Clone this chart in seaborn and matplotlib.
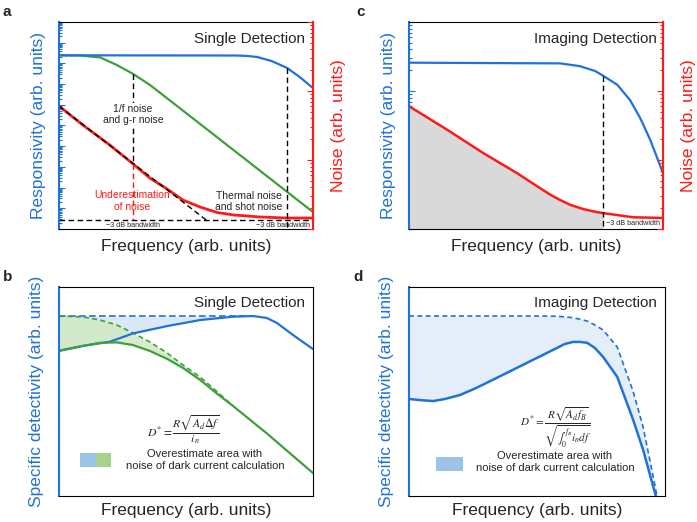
import numpy as np
import matplotlib.pyplot as plt
import seaborn as sns
from matplotlib.ticker import LogLocator, NullFormatter
from matplotlib.patches import Rectangle

sns.set_style("white")
plt.rcParams["font.family"] = ["Liberation Sans", "DejaVu Sans"]
plt.rcParams["mathtext.fontset"] = "stix"

BLUE = "#2172d8"
RED = "#ff1a1a"
GREEN = "#3fa03a"

# all values are log10 of arb. units
# panel a - single detection, responsivity and noise
fa_blue = [0, 3.5, 3.7, 3.9, 4.19, 4.49, 4.74, 5.0]
ra_blue = [8.39, 8.38, 8.36, 8.31, 8.11, 7.78, 7.34, 6.81]
fa_green = [0, 0.41, 0.81, 1.14, 1.46, 1.79, 2.78, 5.0]
ra_green = [8.39, 8.38, 8.29, 7.92, 7.49, 6.96, 5.07, 0.82]
fa_noise = [0, 0.47, 1.0, 1.46, 1.79, 2.13, 2.44, 2.78, 3.11, 3.43, 3.96, 4.49, 5.0]
na_noise = [5.94, 5.02, 4.06, 3.14, 2.46, 1.93, 1.40, 1.06, 0.80, 0.68, 0.58, 0.53, 0.53]
fa_asym = [0, 2.9]
na_asym = [5.94, 0.43]
na_floor = 0.43
fa_cut_green = 1.46
fa_cut_blue = 4.49

# panel c - imaging detection
fc_blue = [0, 2.38, 2.69, 2.93, 3.06, 3.28, 3.48, 3.64, 3.80, 4.0]
rc_blue = [2.41, 2.40, 2.36, 2.29, 2.22, 2.09, 1.87, 1.61, 1.29, 0.81]
fc_noise = [0, 0.65, 1.17, 1.70, 2.0, 2.22, 2.38, 2.54, 2.74, 2.93, 3.06, 3.53, 4.0]
nc_noise = [1.78, 1.41, 1.10, 0.81, 0.63, 0.50, 0.42, 0.35, 0.29, 0.25, 0.23, 0.17, 0.16]
fc_cut = 3.06

# panel b - specific detectivity, single detection
fb_blue = [0, 0.47, 1.0, 1.46, 2.13, 2.78, 3.43, 3.82, 4.09, 4.29, 4.61, 5.0]
db_blue = [6.95, 7.18, 7.38, 7.78, 8.13, 8.42, 8.58, 8.61, 8.52, 8.28, 7.70, 7.03]
db_blue_ideal = 8.61
fb_blue_ideal_end = 3.82
fb_green = [0, 0.47, 0.81, 1.14, 1.46, 1.79, 2.13, 2.44, 2.78, 3.11, 3.43, 4.09, 5.0]
db_green = [6.94, 7.18, 7.33, 7.35, 7.22, 6.94, 6.56, 6.13, 5.55, 4.90, 4.30, 3.00, 1.10]
db_green_ideal = [8.61, 8.57, 8.42, 8.18, 7.80, 7.37, 6.84, 6.27, 5.69, 5.00, 4.30]

# panel d - specific detectivity, imaging detection
fd = [0, 0.2, 0.41, 0.61, 0.86, 1.12, 1.42, 2.0, 2.51, 2.64, 2.78, 2.90, 3.02, 3.15,
      3.29, 3.53, 3.80, 3.97, 4.17, 4.25]
dd_real = [3.25, 3.21, 3.18, 3.25, 3.38, 3.60, 3.89, 4.46, 4.96, 5.09, 5.16, 5.16, 5.13, 4.96,
           4.66, 3.99, 2.55, 1.54, 0.10, -0.5]
dd_ideal = [6.03, 6.03, 6.03, 6.03, 6.03, 6.03, 6.03, 6.03, 6.02, 6.00, 5.97, 5.92, 5.86, 5.73,
            5.56, 4.99, 3.50, 2.30, 0.35, -0.5]


def p(v):
    return 10 ** np.asarray(v, dtype=float)


def style(ax, xdec, ydec, left_color, right_color="black", xlab_y=-0.048):
    ax.set_xscale("log")
    ax.set_yscale("log")
    ax.set_xlim(1, 10 ** xdec)
    ax.set_ylim(1, 10 ** ydec)
    for axis in (ax.xaxis, ax.yaxis):
        axis.set_major_locator(LogLocator(base=10, numticks=100))
        axis.set_minor_locator(LogLocator(base=10, subs=np.arange(2, 10), numticks=100))
        axis.set_minor_formatter(NullFormatter())
    ax.tick_params(which="both", direction="in", labelbottom=False, labelleft=False,
                   top=False, right=False, width=0.8)
    ax.tick_params(which="major", length=4)
    ax.tick_params(which="minor", length=2.5)
    ax.tick_params(axis="y", which="both", colors=left_color)
    ax.spines["left"].set_color(left_color)
    ax.spines["left"].set_linewidth(1.5)
    ax.spines["right"].set_color(right_color)
    for s in ("top", "bottom"):
        ax.spines[s].set_color("black")
    ax.set_xlabel("Frequency (arb. units)", fontsize=12.5)
    ax.xaxis.set_label_coords(0.5, xlab_y)


def left_label(ax, text, x):
    ax.set_ylabel(text, color=BLUE, fontsize=12.5)
    ax.yaxis.set_label_coords(x, 0.5)
    ax.yaxis.label.set_visible(True)


def right_axis(ax, ydec):
    axr = ax.twinx()
    axr.set_yscale("log")
    axr.set_ylim(1, 10 ** ydec)
    axr.yaxis.set_major_locator(LogLocator(base=10, numticks=100))
    axr.yaxis.set_minor_locator(LogLocator(base=10, subs=np.arange(2, 10), numticks=100))
    axr.yaxis.set_minor_formatter(NullFormatter())
    axr.tick_params(which="both", direction="in", labelright=False, colors=RED, width=0.8)
    axr.tick_params(which="major", length=4)
    axr.tick_params(which="minor", length=2.5)
    for s in ("left", "top", "bottom"):
        axr.spines[s].set_visible(False)
    axr.spines["right"].set_color(RED)
    axr.spines["right"].set_linewidth(1.5)
    axr.set_ylabel("Noise (arb. units)", color=RED, fontsize=12.5)
    axr.yaxis.set_label_coords(1.07, 0.5)
    return axr


fig = plt.figure(figsize=(6.97, 5.22), dpi=100)
ax_a = fig.add_axes([0.0846, 0.5613, 0.3644, 0.3966])
ax_c = fig.add_axes([0.5868, 0.5613, 0.3644, 0.3966])
ax_b = fig.add_axes([0.0846, 0.0498, 0.3644, 0.4004])
ax_d = fig.add_axes([0.5868, 0.0498, 0.3673, 0.4004])

lw = 1.6
dash_kw = dict(color="black", lw=1.0, dashes=(4, 2.5))
white_box = dict(facecolor="white", edgecolor="none", pad=0.8)

# ---------- a ----------
style(ax_a, 5, 10, BLUE, RED)
sns.lineplot(x=p(fa_noise), y=p(na_noise), ax=ax_a, color=RED, lw=lw + 0.4, sort=False, estimator=None)
ax_a.plot(p(fa_asym), p(na_asym), **dash_kw)
ax_a.plot(p([0, 5]), p([na_floor, na_floor]), **dash_kw)
sns.lineplot(x=p(fa_green), y=p(ra_green), ax=ax_a, color=GREEN, lw=lw, sort=False, estimator=None)
sns.lineplot(x=p(fa_blue), y=p(ra_blue), ax=ax_a, color=BLUE, lw=lw, sort=False, estimator=None)
g_top = np.interp(fa_cut_green, fa_green, ra_green)
n_mid = np.interp(fa_cut_green, fa_noise, na_noise)
ax_a.plot(p([fa_cut_green] * 2), p([g_top, n_mid]), **dash_kw)
ax_a.plot(p([fa_cut_green] * 2), p([n_mid, na_floor]), color=RED, lw=1.0, dashes=(4, 2.5))
b_top = np.interp(fa_cut_blue, fa_blue, ra_blue)
ax_a.plot(p([fa_cut_blue] * 2), p([b_top, 0]), **dash_kw)
left_label(ax_a, "Responsivity (arb. units)", -0.052)
right_axis(ax_a, 3)
ax_a.text(0.969, 0.918, "Single Detection", transform=ax_a.transAxes, ha="right", va="center", fontsize=11)
ax_a.text(0.291, 0.553, "1/f noise\nand g-r noise", transform=ax_a.transAxes, ha="center", va="center",
          fontsize=7.5, linespacing=1.2, bbox=white_box)
ax_a.text(0.287, 0.135, "Underestimation\nof noise", transform=ax_a.transAxes, ha="center", va="center",
          fontsize=7.5, color=RED, linespacing=1.2)
ax_a.text(0.748, 0.133, "Thermal noise\nand shot noise", transform=ax_a.transAxes, ha="center", va="center",
          fontsize=7.5, linespacing=1.2)
ax_a.text(0.291, 0.019, "\u22123 dB bandwidth", transform=ax_a.transAxes, ha="center", va="center", fontsize=5.2)
ax_a.text(0.884, 0.019, "\u22123 dB bandwidth", transform=ax_a.transAxes, ha="center", va="center", fontsize=5.2)

# ---------- c ----------
style(ax_c, 4, 3, BLUE, RED)
fcn = np.array(fc_noise)
ax_c.fill_between(p(fcn[fcn <= fc_cut]), p(np.array(nc_noise)[fcn <= fc_cut]), 1, color="#d9d9d9", lw=0)
sns.lineplot(x=p(fc_noise), y=p(nc_noise), ax=ax_c, color=RED, lw=lw + 0.2, sort=False, estimator=None)
sns.lineplot(x=p(fc_blue), y=p(rc_blue), ax=ax_c, color=BLUE, lw=lw, sort=False, estimator=None)
c_top = np.interp(fc_cut, fc_blue, rc_blue)
ax_c.plot(p([fc_cut] * 2), p([c_top, 0]), **dash_kw)
left_label(ax_c, "Responsivity (arb. units)", -0.052)
right_axis(ax_c, 3)
ax_c.text(0.976, 0.918, "Imaging Detection", transform=ax_c.transAxes, ha="right", va="center", fontsize=11)
ax_c.text(0.775, 0.026, "\u22123 dB bandwidth", transform=ax_c.transAxes, ha="left", va="center", fontsize=5.2)

# ---------- b ----------
style(ax_b, 5, 10, BLUE, xlab_y=-0.033)
fbb = np.array(fb_blue)
m = fbb <= fb_blue_ideal_end
ax_b.fill_between(p(fbb[m]), p(db_blue_ideal), p(np.array(db_blue)[m]), color="#dce8f6", lw=0)
ng = len(db_green_ideal)
ax_b.fill_between(p(fb_green[:ng]), p(db_green_ideal), p(db_green[:ng]), color="#cfe8c0", alpha=0.8, lw=0)
ax_b.plot(p([0, fb_blue_ideal_end]), p([db_blue_ideal] * 2), color=BLUE, lw=1.2, dashes=(4, 2))
ax_b.plot(p(fb_green[:ng]), p(db_green_ideal), color=GREEN, lw=1.2, dashes=(3, 2))
sns.lineplot(x=p(fb_blue), y=p(db_blue), ax=ax_b, color=BLUE, lw=lw, sort=False, estimator=None)
sns.lineplot(x=p(fb_green), y=p(db_green), ax=ax_b, color=GREEN, lw=lw, sort=False, estimator=None)
left_label(ax_b, "Specific detectivity (arb. units)", -0.060)
ax_b.text(0.969, 0.923, "Single Detection", transform=ax_b.transAxes, ha="right", va="center", fontsize=11)
ax_b.text(0.488, 0.316, r"$D^{*}=\dfrac{R\sqrt{A_d\Delta f}}{i_n}$", transform=ax_b.transAxes,
          ha="center", va="center", fontsize=8.5)
ax_b.text(0.575, 0.172, "Overestimate area with\nnoise of dark current calculation", transform=ax_b.transAxes,
          ha="center", va="center", fontsize=8, linespacing=1.25)
ax_b.add_patch(Rectangle((0.083, 0.139), 0.063, 0.067, transform=ax_b.transAxes, color="#9dc3e6", lw=0))
ax_b.add_patch(Rectangle((0.146, 0.139), 0.059, 0.067, transform=ax_b.transAxes, color="#a9d18e", lw=0))

# ---------- d ----------
style(ax_d, 4.34, 7, BLUE, xlab_y=-0.033)
ax_d.fill_between(p(fd), p(dd_ideal), p(dd_real), color="#e3eef9", lw=0)
ax_d.plot(p(fd), p(dd_ideal), color=BLUE, lw=1.2, dashes=(3, 2))
sns.lineplot(x=p(fd), y=p(dd_real), ax=ax_d, color=BLUE, lw=lw + 0.2, sort=False, estimator=None)
left_label(ax_d, "Specific detectivity (arb. units)", -0.060)
ax_d.text(0.969, 0.923, "Imaging Detection", transform=ax_d.transAxes, ha="right", va="center", fontsize=11)
ax_d.text(0.574, 0.325, r"$D^{*}=\dfrac{R\sqrt{A_d f_B}}{\sqrt{\int_0^{f_B} i_n df}}$",
          transform=ax_d.transAxes, ha="center", va="center", fontsize=8)
ax_d.text(0.570, 0.165, "Overestimate area with\nnoise of dark current calculation", transform=ax_d.transAxes,
          ha="center", va="center", fontsize=8, linespacing=1.25)
ax_d.add_patch(Rectangle((0.105, 0.120), 0.106, 0.067, transform=ax_d.transAxes, color="#9dc3e6", lw=0))

# panel letters
for lab, x, y in [("a", 0.004, 0.99), ("c", 0.512, 0.99), ("b", 0.004, 0.482), ("d", 0.507, 0.482)]:
    fig.text(x, y, lab, fontsize=11, fontweight="bold", ha="left", va="top")

fig.savefig("out.png", dpi=100)
